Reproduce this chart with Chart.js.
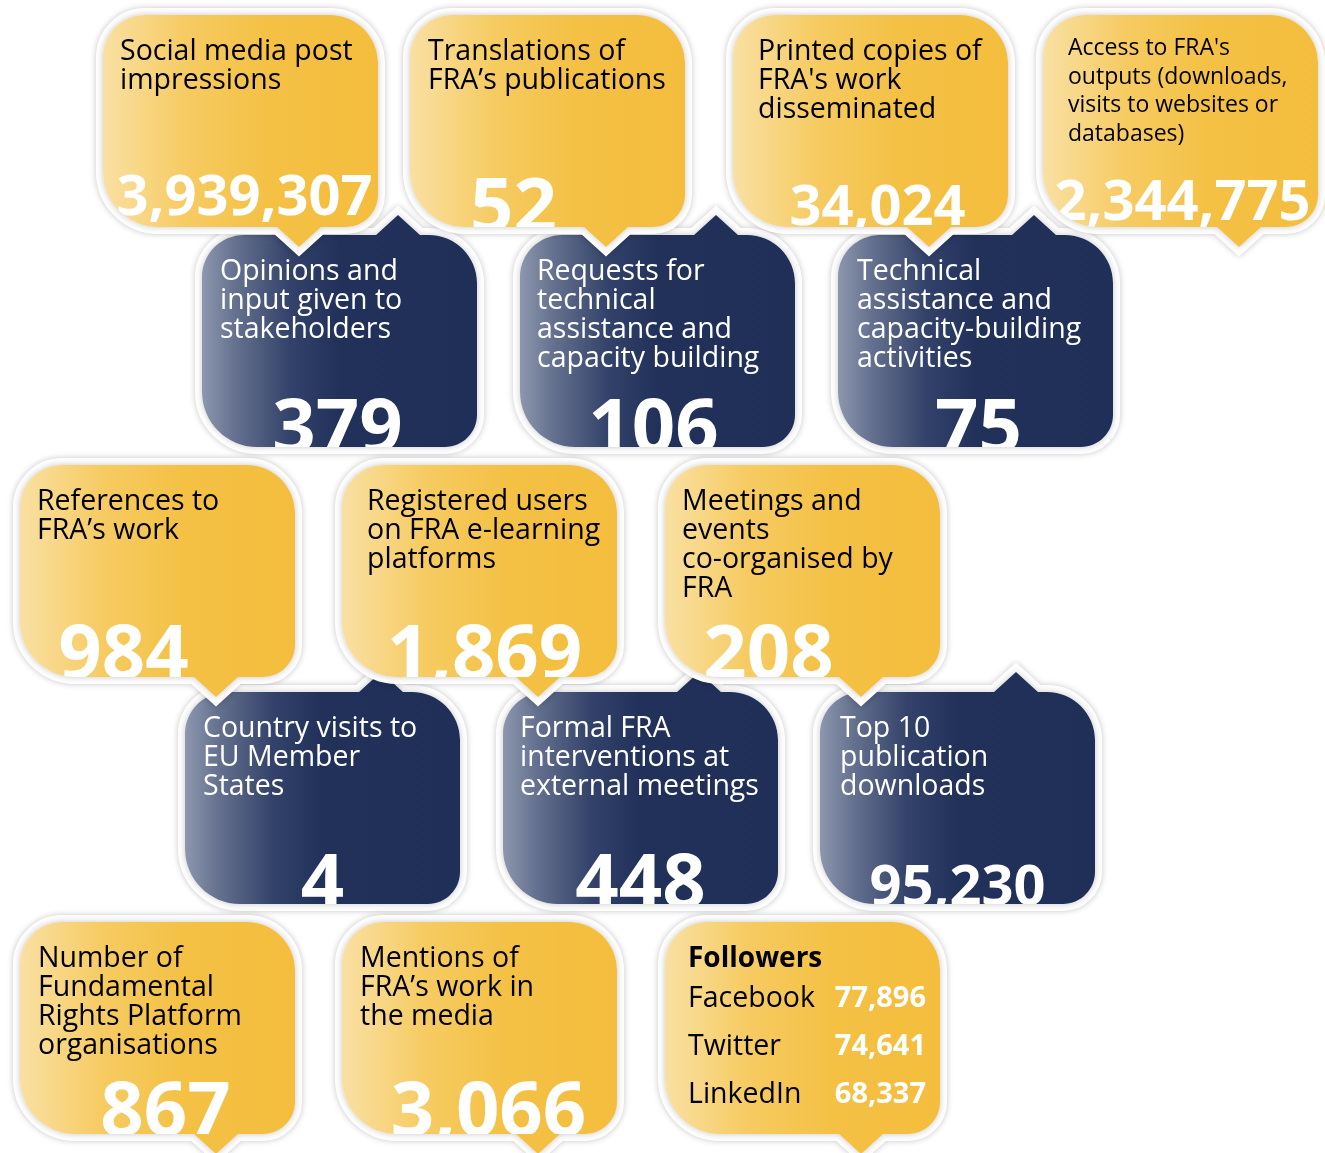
<!DOCTYPE html>
<html>
<head>
<meta charset="utf-8">
<script src="https://cdn.jsdelivr.net/npm/chart.js@4.4.1/dist/chart.umd.min.js"></script>
<style>
  html, body { margin: 0; padding: 0; background: #fff; }
  canvas { display: block; }
</style>
</head>
<body>
<canvas id="infografico" width="1325" height="1153"></canvas>
<script>
// ---- dados ----
const tileTitles = [
    ['Social media post', 'impressions'],
    ['Translations of', 'FRA\u2019s publications'],
    ['Printed copies of', 'FRA\'s work', 'disseminated'],
    ['Access to FRA\'s', 'outputs (downloads,', 'visits to websites or', 'databases)'],
    ['Opinions and', 'input given to', 'stakeholders'],
    ['Requests for', 'technical', 'assistance and', 'capacity building'],
    ['Technical', 'assistance and', 'capacity-building', 'activities'],
    ['References to', 'FRA\u2019s work'],
    ['Registered users', 'on FRA e-learning', 'platforms'],
    ['Meetings and', 'events', 'co-organised by', 'FRA'],
    ['Country visits to', 'EU Member', 'States'],
    ['Formal FRA', 'interventions at', 'external meetings'],
    ['Top 10', 'publication', 'downloads'],
    ['Number of', 'Fundamental', 'Rights Platform', 'organisations'],
    ['Mentions of', 'FRA\u2019s work in', 'the media'],
    ['Followers']
];
const tileValues = [3939307, 52, 34024, 2344775, 379, 106, 75, 984, 1869, 208, 4, 448, 95230, 867, 3066, null];
const followerNetworks = ['Facebook', 'Twitter', 'LinkedIn'];
const followerCounts = [77896, 74641, 68337];

// ---- layout (posicoes e estilos) ----
const tileRow = [0, 0, 0, 0, 1, 1, 1, 2, 2, 2, 3, 3, 3, 4, 4, 4];
const rowTop = [15, 235, 465, 692, 922];
const rowTheme = ['gold', 'navy', 'gold', 'navy', 'gold'];
const tileLeft = [103, 410, 733, 1043, 202, 520, 838, 20, 342, 665, 185, 503, 820, 20, 342, 665];
const titleInset = [17, 18, 25, 25, 18, 17, 19, 17, 25, 17, 18, 17, 20, 18, 18, 23];
const numShift = [4, -34, 7, 2, -2, -4, 3, -34, 5, -34, 0, 0, 0, 8, 9, 0];
const numDrop = [52, 49, 42, 47, 48, 48, 48, 52, 52, 52, 50, 50, 39, 52, 52, 0];
const TILE_W = 275, TILE_H = 212;
const FONT = '"Open Sans", "Noto Sans", sans-serif';

function bubblePath(ctx, l, t, w, h, tailUp, withTail) {
    const r = l + w, b = t + h;
    const rTL = 42, rTR = 48, rBR = 32, rBL = 55, k = 0.45;
    const tx = l + 196, hw = 22, th = 20;
    ctx.beginPath();
    ctx.moveTo(l + rTL, t);
    if (withTail && tailUp) {
        ctx.lineTo(tx - hw, t);
        ctx.lineTo(tx, t - th);
        ctx.lineTo(tx + hw, t);
    }
    ctx.lineTo(r - rTR, t);
    ctx.bezierCurveTo(r - rTR * k, t, r, t + rTR * k, r, t + rTR);
    ctx.lineTo(r, b - rBR);
    ctx.bezierCurveTo(r, b - rBR * k, r - rBR * k, b, r - rBR, b);
    if (withTail && !tailUp) {
        ctx.lineTo(tx + hw, b);
        ctx.lineTo(tx, b + th);
        ctx.lineTo(tx - hw, b);
    }
    ctx.lineTo(l + rBL, b);
    ctx.bezierCurveTo(l + rBL * k, b, l, b - rBL * k, l, b - rBL);
    ctx.lineTo(l, t + rTL);
    ctx.bezierCurveTo(l, t + rTL * k, l + rTL * k, t, l + rTL, t);
    ctx.closePath();
}

function fmt(v) {
    return v.toLocaleString('en-US');
}

const tilePlugin = {
    id: 'tiles',
    afterDatasetsDraw(chart) {
        const ctx = chart.ctx;
        const meta = chart.getDatasetMeta(0);
        const xs = chart.scales.x, ys = chart.scales.y;

        // navy primeiro, depois gold por cima
        const ordem = [];
        tileRow.forEach((row, i) => { if (rowTheme[row] === 'navy') ordem.push(i); });
        tileRow.forEach((row, i) => { if (rowTheme[row] === 'gold') ordem.push(i); });

        ordem.forEach(i => {
            const el = meta.data[i];
            const l = el.x, t = el.y;
            const w = xs.getPixelForValue(tileLeft[i] + TILE_W) - l;
            const h = ys.getPixelForValue(rowTop[tileRow[i]] + TILE_H) - t;
            const theme = rowTheme[tileRow[i]];
            const tailUp = theme === 'navy';

            // borda branca com sombra
            ctx.save();
            bubblePath(ctx, l, t, w, h, tailUp, true);
            ctx.shadowColor = 'rgba(0,0,0,0.22)';
            ctx.shadowBlur = 6;
            ctx.lineJoin = 'miter';
            ctx.lineWidth = 14;
            ctx.strokeStyle = '#fff';
            ctx.stroke();
            ctx.fillStyle = '#fff';
            ctx.fill();
            ctx.restore();

            // preenchimento com gradiente
            const g = ctx.createLinearGradient(l, 0, l + w, 0);
            if (theme === 'gold') {
                g.addColorStop(0, '#f9e0a3');
                g.addColorStop(0.3, '#f6cb62');
                g.addColorStop(0.6, '#f4c145');
                g.addColorStop(1, '#f4bd3d');
            } else {
                g.addColorStop(0, '#8d97ae');
                g.addColorStop(0.12, '#65718f');
                g.addColorStop(0.32, '#33426a');
                g.addColorStop(0.5, '#213159');
                g.addColorStop(1, '#1f2f58');
            }
            bubblePath(ctx, l, t, w, h, tailUp, true);
            ctx.fillStyle = g;
            ctx.fill();

            const txtColor = theme === 'gold' ? '#000' : '#fff';
            const x0 = l + titleInset[i];

            if (tileValues[i] === null) {
                // quadro de seguidores
                ctx.save();
                ctx.fillStyle = '#000';
                ctx.textAlign = 'left';
                ctx.font = 'bold 28px ' + FONT;
                ctx.fillText(tileTitles[i][0], x0, t + 45);
                followerNetworks.forEach((n, j) => {
                    ctx.fillStyle = '#000';
                    ctx.textAlign = 'left';
                    ctx.font = '28.5px ' + FONT;
                    ctx.fillText(n, x0, t + 85 + j * 48);
                    ctx.fillStyle = '#fff';
                    ctx.textAlign = 'right';
                    ctx.font = 'bold 29px ' + FONT;
                    ctx.fillText(fmt(followerCounts[j]), l + 261, t + 85 + j * 48);
                });
                ctx.restore();
                return;
            }

            // titulo
            const pequeno = i === 3;
            const fs = pequeno ? 23 : 28.5;
            ctx.save();
            ctx.fillStyle = txtColor;
            ctx.textAlign = 'left';
            ctx.textBaseline = 'alphabetic';
            ctx.font = fs + 'px ' + FONT;
            tileTitles[i].forEach((linha, j) => {
                ctx.fillText(linha, x0, t + (pequeno ? 40 : 45) + j * (pequeno ? 28.5 : 29));
            });
            ctx.restore();

            // numero grande, recortado pela bolha
            const txt = fmt(tileValues[i]);
            const nfs = txt.length >= 6 ? 56 : 76;
            ctx.save();
            bubblePath(ctx, l, t, w, h, tailUp, false);
            ctx.clip();
            ctx.fillStyle = '#fff';
            ctx.textAlign = 'center';
            ctx.font = 'bold ' + nfs + 'px ' + FONT;
            const topo = t + h - numDrop[i];
            ctx.fillText(txt, l + w / 2 + numShift[i], topo + nfs * 0.714);
            ctx.restore();
        });
    }
};

new Chart(document.getElementById('infografico'), {
    type: 'scatter',
    data: {
        datasets: [{
            data: tileLeft.map((x, i) => ({ x: x, y: rowTop[tileRow[i]] })),
            pointRadius: 0,
            pointHoverRadius: 0
        }]
    },
    options: {
        responsive: false,
        animation: false,
        events: [],
        layout: { padding: 0 },
        scales: {
            x: { type: 'linear', min: 0, max: 1325, display: false },
            y: { type: 'linear', min: 0, max: 1153, reverse: true, display: false }
        },
        plugins: {
            legend: { display: false },
            tooltip: { enabled: false }
        }
    },
    plugins: [tilePlugin]
});
</script>
</body>
</html>
